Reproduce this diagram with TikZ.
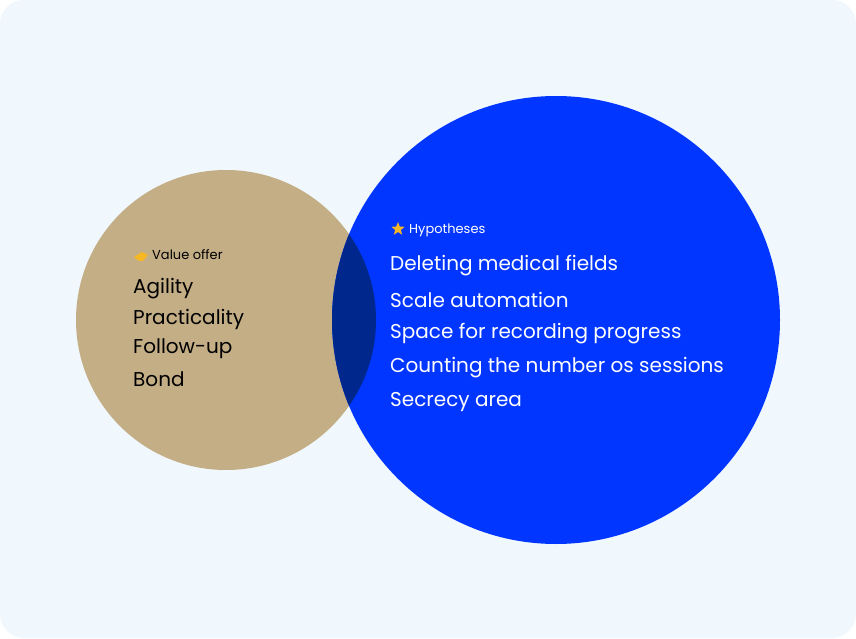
\documentclass[tikz,border=0pt]{standalone}
\usepackage{fontspec}
\setmainfont{Poppins}
\usetikzlibrary{shapes.geometric}
\definecolor{bgblue}{HTML}{F0F8FE}
\definecolor{tan}{HTML}{C4AE86}
\definecolor{vivid}{HTML}{0036FF}
\definecolor{navy}{HTML}{00288C}
\definecolor{gold}{HTML}{F5B824}
\tikzset{
  big/.style={anchor=west, inner sep=0pt, font=\fontsize{20}{24}\selectfont},
  small/.style={anchor=west, inner sep=0pt, font=\fontsize{13}{16}\selectfont}
}
\begin{document}
\begin{tikzpicture}[x=1pt, y=1pt]
  \fill[bgblue, rounded corners=24pt] (0,0) rectangle (856,638);
  \useasboundingbox (0,0) rectangle (856,638);

  % circles
  \fill[tan] (226,318) circle (150);
  \fill[vivid] (556,318) circle (224);
  \begin{scope}
    \clip (226,318) circle (150);
    \fill[navy] (556,318) circle (224);
  \end{scope}

  % value offer
  \fill[gold] (134,381) -- (142,386) -- (148,383) -- (143,377) -- (139,377) -- cycle;
  \node[small, text=black] (offer) at (152,383) {Value offer};
  \node[big, text=black] (agility) at (133,349) {Agility};
  \node[big, text=black] (practical) at (133,319) {Practicality};
  \node[big, text=black] (follow) at (133,289) {Follow-up};
  \node[big, text=black] (bond) at (133,259) {Bond};

  % hypotheses
  \node[star, star points=5, star point ratio=2.3, fill=gold, minimum size=14pt, inner sep=0pt] (starico) at (398,409) {};
  \node[small, text=white] (hypo) at (409,408) {Hypotheses};
  \node[big, text=white] (h1) at (390,372) {Deleting medical fields};
  \node[big, text=white] (h2) at (390,338) {Scale automation};
  \node[big, text=white] (h3) at (390,304) {Space for recording progress};
  \node[big, text=white] (h4) at (390,270) {Counting the number os sessions};
  \node[big, text=white] (h5) at (390,236) {Secrecy area};
\end{tikzpicture}
\end{document}
